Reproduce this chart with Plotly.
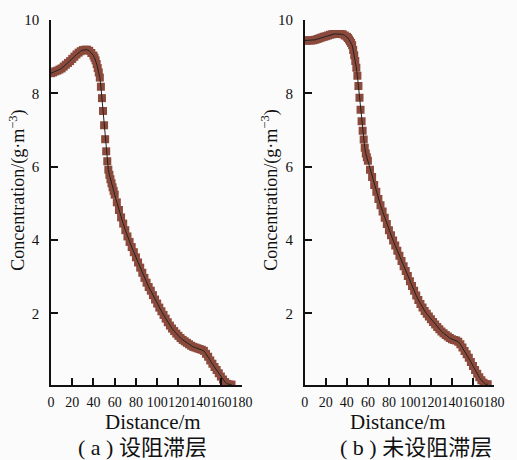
import plotly.graph_objects as go

# ---- data ----
dist_a = [0, 2, 4, 6, 8, 10, 12, 14, 16, 18, 20, 22, 24, 26, 28, 30, 32, 34, 36, 38,
          40, 41, 42, 43, 44, 45, 46, 47, 48, 49, 50, 51, 52, 53, 54, 55, 56, 57, 58, 59, 60,
          62, 64, 66, 68, 70, 72, 74, 76, 78, 80, 82, 84, 86, 88, 90, 92, 94, 96, 98,
          100, 102, 104, 106, 108, 110, 112, 114, 116, 118, 120, 122, 124, 126, 128, 130,
          132, 134, 136, 138, 140, 142, 144, 146, 148, 150, 152, 154, 156, 158, 160, 162,
          164, 166, 168, 170]
conc_a = [8.55, 8.57, 8.60, 8.62, 8.65, 8.68, 8.73, 8.78, 8.83, 8.88, 8.94, 9.00, 9.06, 9.11,
          9.15, 9.18, 9.19, 9.19, 9.16, 9.10,
          9.03, 8.97, 8.90, 8.80, 8.69, 8.57, 8.43, 8.18, 7.87, 7.52, 7.13, 6.75, 6.42, 6.15,
          5.92, 5.78, 5.66, 5.55, 5.44, 5.34, 5.24,
          5.03, 4.82, 4.62, 4.45, 4.27, 4.10, 3.95, 3.81, 3.67, 3.53, 3.39, 3.25, 3.11, 2.97,
          2.84, 2.72, 2.62, 2.50, 2.38,
          2.27, 2.16, 2.06, 1.96, 1.86, 1.76, 1.67, 1.59, 1.52, 1.45, 1.39, 1.33, 1.28, 1.24,
          1.20, 1.16, 1.12, 1.09, 1.07, 1.05, 1.03, 1.01, 0.98, 0.90, 0.82, 0.72, 0.63, 0.54,
          0.46, 0.37, 0.28, 0.20, 0.13, 0.08, 0.06, 0.06]

dist_b = [0, 2, 4, 6, 8, 10, 12, 14, 16, 18, 20, 22, 24, 26, 28, 30, 32, 34, 36, 38,
          40, 41, 42, 43, 44, 45, 46, 47, 48, 49, 50, 51, 52, 53, 54, 55, 56, 57, 58, 59, 60,
          62, 64, 66, 68, 70, 72, 74, 76, 78, 80, 82, 84, 86, 88, 90, 92, 94, 96, 98,
          100, 102, 104, 106, 108, 110, 112, 114, 116, 118, 120, 122, 124, 126, 128, 130,
          132, 134, 136, 138, 140, 142, 144, 146, 148, 150, 152, 154, 156, 158, 160, 162,
          164, 166, 168, 170, 172, 174]
conc_b = [9.44, 9.44, 9.44, 9.44, 9.45, 9.46, 9.48, 9.50, 9.52, 9.54, 9.56, 9.58, 9.60, 9.61,
          9.62, 9.62, 9.62, 9.62, 9.61, 9.58,
          9.54, 9.51, 9.47, 9.42, 9.37, 9.31, 9.18, 9.04, 8.88, 8.70, 8.48, 8.20, 7.88, 7.55,
          7.24, 6.98, 6.74, 6.52, 6.36, 6.26, 6.16,
          5.92, 5.72, 5.50, 5.32, 5.12, 4.95, 4.78, 4.61, 4.44, 4.27, 4.13, 3.99, 3.85, 3.71,
          3.57, 3.43, 3.29, 3.16, 3.02,
          2.88, 2.75, 2.62, 2.49, 2.37, 2.26, 2.16, 2.07, 1.99, 1.92, 1.84, 1.77, 1.70, 1.63,
          1.57, 1.51, 1.46, 1.41, 1.37, 1.33, 1.30, 1.28, 1.26, 1.23, 1.16, 1.07, 0.98, 0.89,
          0.79, 0.68, 0.57, 0.46, 0.36, 0.26, 0.18, 0.11, 0.07, 0.07]

x_ticks = [0, 20, 40, 60, 80, 100, 120, 140, 160, 180]
y_ticks = [2, 4, 6, 8, 10]
x_title = "Distance/m"
y_title = "Concentration/(g·m<sup>−3</sup>)"
captions = ["( a ) 设阻滞层", "( b ) 未设阻滞层"]

MARK = "rgb(139,74,60)"
SERIF = "Liberation Serif"
CJK = "Liberation Serif, Noto Sans CJK SC"
INK = "#111111"

fig = go.Figure()
for i, (xs, ys) in enumerate([(dist_a, conc_a), (dist_b, conc_b)]):
    xa = "x" if i == 0 else "x2"
    ya = "y" if i == 0 else "y2"
    fig.add_trace(go.Scatter(x=xs, y=ys, mode="markers", xaxis=xa, yaxis=ya,
                             marker=dict(symbol="square", size=8, color=MARK,
                                         line=dict(width=0)),
                             showlegend=False, hoverinfo="skip"))
    fig.add_trace(go.Scatter(x=xs, y=ys, mode="lines", xaxis=xa, yaxis=ya,
                             line=dict(color="#222222", width=1),
                             showlegend=False))

W, H = 517, 460
L, R, T, B = 51, 14, 16, 75
pw, ph = W - L - R, H - T - B


def px(xp):
    return (xp - L) / pw


def py(yp):
    return (H - B - yp) / ph


ax_common = dict(showline=True, linecolor=INK, linewidth=1.5, mirror=False,
                 ticks="inside", ticklen=7, tickwidth=1.5, tickcolor=INK,
                 showgrid=False, zeroline=False)
xfont = dict(family=SERIF, size=14, color=INK)
yfont = dict(family=SERIF, size=15, color=INK)

fig.update_layout(
    width=W, height=H,
    margin=dict(l=L, r=R, t=T, b=B),
    paper_bgcolor="#fbfbfb", plot_bgcolor="#fbfbfb",
    font=dict(family=SERIF, color=INK),
    xaxis=dict(domain=[0, px(246)], range=[0, 180], tickmode="array", tickvals=x_ticks,
               tickangle=0, ticklabelstandoff=3, tickfont=xfont, **ax_common),
    xaxis2=dict(domain=[px(310), 1], range=[0, 180], tickmode="array", tickvals=x_ticks,
                tickangle=0, ticklabelstandoff=3, tickfont=xfont, anchor="y2", **ax_common),
    yaxis=dict(range=[0.05, 10], tickmode="array", tickvals=y_ticks,
               ticklabelstandoff=7, tickfont=yfont, anchor="x", **ax_common),
    yaxis2=dict(range=[0.05, 10], tickmode="array", tickvals=y_ticks,
                ticklabelstandoff=7, tickfont=yfont, anchor="x2", **ax_common),
)

annos = []
for cx in (155, 405):
    annos.append(dict(text=x_title, x=px(cx), y=py(422), xref="paper", yref="paper",
                      showarrow=False, xanchor="center", yanchor="middle",
                      font=dict(family=SERIF, size=21, color=INK)))
for cx in (17, 275):
    annos.append(dict(text=y_title, x=px(cx), y=py(188), xref="paper", yref="paper",
                      showarrow=False, xanchor="center", yanchor="middle", textangle=-90,
                      font=dict(family=SERIF, size=18, color=INK)))
for cx, txt in zip((144, 423), captions):
    annos.append(dict(text=txt, x=px(cx), y=py(448), xref="paper", yref="paper",
                      showarrow=False, xanchor="center", yanchor="middle",
                      font=dict(family=CJK, size=22, color=INK)))
fig.update_layout(annotations=annos)

fig.write_html("out.html")
